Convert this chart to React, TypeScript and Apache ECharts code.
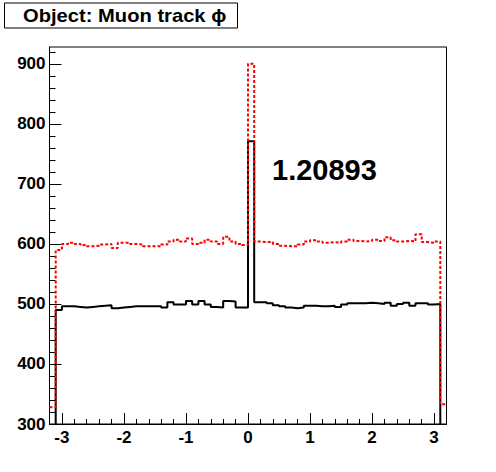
import React, { useEffect, useRef } from "react";
import * as echarts from "echarts";

// Histogram binning: 64 bins from -3.2 to 3.2
const X_MIN = -3.2;
const X_MAX = 3.2;
const BIN_WIDTH = 0.1;
const Y_MIN = 300;
const Y_MAX = 928;

const xTickLabels = [-3, -2, -1, 0, 1, 2, 3];
const yTickLabels = [300, 400, 500, 600, 700, 800, 900];

// Black histogram (solid)
const blackCounts = [
  280, 490, 496, 496, 495, 494, 495, 496, 497, 498, 493, 494, 495, 496, 496, 496,
  496, 496, 494, 503, 499, 499, 505, 499, 505, 499, 495, 494, 505, 504, 494, 494,
  771, 503, 503, 501, 498, 496, 494, 493, 494, 497, 497, 496, 496, 497, 495, 499,
  501, 501, 501, 502, 501, 500, 502, 497, 500, 502, 497, 501, 501, 499, 500, 280,
];

// Red histogram (dashed)
const redCounts = [
  328, 590, 600, 602, 600, 598, 596, 597, 599, 600, 593, 602, 602, 600, 599, 596,
  596, 596, 599, 604, 607, 604, 609, 600, 602, 607, 604, 600, 612, 604, 600, 598,
  900, 604, 603, 603, 600, 597, 596, 596, 599, 604, 606, 604, 602, 603, 602, 604,
  607, 605, 604, 605, 607, 605, 611, 606, 604, 605, 604, 616, 603, 602, 604, 333,
];

const titleText = "Object: Muon track \u03D5";
const ratioText = "1.20893";

function toSteps(vals: number[]): number[][] {
  const pts = vals.map((v, i) => [Math.round((X_MIN + i * BIN_WIDTH) * 1000) / 1000, v]);
  pts.push([X_MAX, vals[vals.length - 1]]);
  return pts;
}

const FONT = '"Liberation Sans", Arial, Helvetica, sans-serif';

export default function App() {
  const ref = useRef<HTMLDivElement>(null);
  useEffect(() => {
    if (!ref.current) return;
    const chart = echarts.init(ref.current, undefined, { renderer: "svg" });
    const labelStyle = {
      color: "#000",
      fontSize: 17,
      fontWeight: "bold" as const,
      fontFamily: FONT,
    };
    const minorX: number[] = [];
    for (let k = 0; k <= 32; k++) minorX.push(Math.round((X_MIN + k * 0.2) * 100) / 100);
    const minorY: number[] = [];
    for (let v = Y_MIN; v <= 920; v += 20) minorY.push(v);

    chart.setOption({
      animation: false,
      backgroundColor: "#fff",
      grid: {
        left: 49.5,
        top: 47,
        width: 397,
        height: 377,
        show: true,
        borderColor: "#000",
        borderWidth: 1,
        backgroundColor: "#fff",
      },
      xAxis: [
        {
          type: "value",
          min: X_MIN,
          max: X_MAX,
          position: "bottom",
          axisLine: { show: true, onZero: false, lineStyle: { color: "#000", width: 1 } },
          splitLine: { show: false },
          axisTick: {
            show: true,
            inside: true,
            length: 11,
            customValues: xTickLabels,
            lineStyle: { color: "#000", width: 1 },
          },
          axisLabel: {
            ...labelStyle,
            margin: 5,
            customValues: xTickLabels,
            formatter: (v: number) => String(v),
          },
        },
        {
          type: "value",
          min: X_MIN,
          max: X_MAX,
          position: "bottom",
          axisLine: { show: false, onZero: false },
          splitLine: { show: false },
          axisTick: {
            show: true,
            inside: true,
            length: 5,
            customValues: minorX,
            lineStyle: { color: "#000", width: 1 },
          },
          axisLabel: { show: false },
        },
      ],
      yAxis: [
        {
          type: "value",
          min: Y_MIN,
          max: Y_MAX,
          position: "left",
          axisLine: { show: true, onZero: false, lineStyle: { color: "#000", width: 1 } },
          splitLine: { show: false },
          axisTick: {
            show: true,
            inside: true,
            length: 12,
            customValues: yTickLabels,
            lineStyle: { color: "#000", width: 1 },
          },
          axisLabel: {
            ...labelStyle,
            margin: 4,
            customValues: yTickLabels,
            formatter: (v: number) => String(v),
          },
        },
        {
          type: "value",
          min: Y_MIN,
          max: Y_MAX,
          position: "left",
          axisLine: { show: false, onZero: false },
          splitLine: { show: false },
          axisTick: {
            show: true,
            inside: true,
            length: 6,
            customValues: minorY,
            lineStyle: { color: "#000", width: 1 },
          },
          axisLabel: { show: false },
        },
      ],
      series: [
        {
          type: "line",
          name: "black",
          xAxisIndex: 0,
          yAxisIndex: 0,
          step: "end",
          data: toSteps(blackCounts),
          showSymbol: false,
          symbol: "none",
          clip: true,
          lineStyle: { color: "#000", width: 2, type: "solid" },
          z: 2,
        },
        {
          type: "line",
          name: "red",
          xAxisIndex: 0,
          yAxisIndex: 0,
          step: "end",
          data: toSteps(redCounts),
          showSymbol: false,
          symbol: "none",
          clip: true,
          lineStyle: { color: "#ff0000", width: 2, type: [3, 2] },
          z: 3,
        },
      ],
      graphic: [
        {
          type: "rect",
          shape: { x: 4.5, y: 3, width: 233, height: 25 },
          style: { fill: "#fff", stroke: "#000", lineWidth: 1 },
          z: 10,
        },
        {
          type: "text",
          x: 23,
          y: 15.5,
          scaleX: 1.12,
          style: {
            text: titleText,
            font: `bold 18px ${FONT}`,
            fill: "#000",
            align: "left",
            verticalAlign: "middle",
          },
          z: 11,
        },
        {
          type: "text",
          x: 272,
          y: 170,
          style: {
            text: ratioText,
            font: `bold 29px ${FONT}`,
            fill: "#000",
            align: "left",
            verticalAlign: "middle",
          },
          z: 11,
        },
      ],
    });
    return () => chart.dispose();
  }, []);
  return (
    <div
      ref={ref}
      style={{ position: "fixed", left: 0, top: 0, width: 496, height: 472, background: "#fff" }}
    />
  );
}
